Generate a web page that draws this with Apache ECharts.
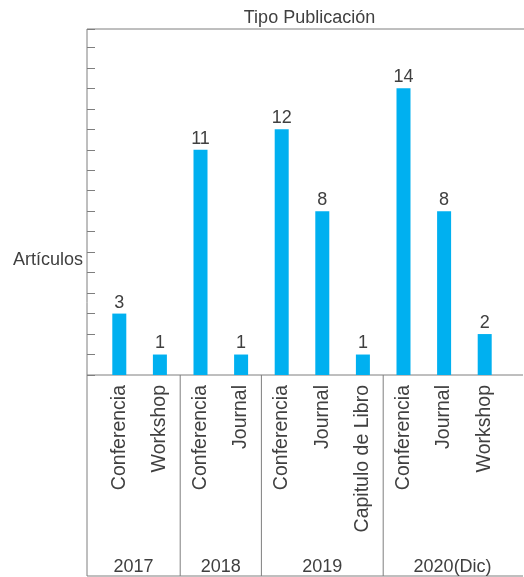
<!DOCTYPE html>
<html>
<head>
<meta charset="utf-8">
<script src="https://cdn.jsdelivr.net/npm/echarts@6/dist/echarts.min.js"></script>
<style>
html,body{margin:0;padding:0;background:#fff;}
#chart{width:524px;height:577px;}
</style>
</head>
<body>
<div id="chart"></div>
<script>
// ---- data ----
const years = ['2017', '2018', '2019', '2020(Dic)'];
const groupSizes = [2, 2, 3, 3];
const categories = ['Conferencia', 'Workshop', 'Conferencia', 'Journal', 'Conferencia', 'Journal', 'Capitulo de Libro', 'Conferencia', 'Journal', 'Workshop'];
const values = [3, 1, 11, 1, 12, 8, 1, 14, 8, 2];
const yMax = 16.9;

// unique keys for the category axis
const catKeys = categories.map((c, i) => i + '|' + c);

const FONT = '"Liberation Sans", Arial, sans-serif';
const TEXT = '#404040';
const LINE = '#7f7f7f';

// frame layout
const frameLeft = 87, frameRight = 522, frameTop = 29, baseY = 375, frameBottom = 576;

const chart = echarts.init(document.getElementById('chart'));
chart.setOption({
  animation: false,
  backgroundColor: '#fff',
  textStyle: { fontFamily: FONT },
  title: {
    text: 'Tipo Publicación',
    left: (frameLeft + frameRight) / 2,
    textAlign: 'center',
    top: 4,
    textStyle: { fontFamily: FONT, fontSize: 18, fontWeight: 'normal', color: TEXT }
  },
  grid: { left: 99, width: 406, top: frameTop, height: baseY - frameTop },
  xAxis: {
    type: 'category',
    data: catKeys,
    axisLine: { show: false },
    axisTick: { show: false },
    axisLabel: {
      interval: 0,
      rotate: 90,
      margin: 10,
      fontFamily: FONT,
      fontSize: 19.5,
      color: TEXT,
      formatter: v => v.split('|')[1]
    }
  },
  yAxis: {
    type: 'value',
    min: 0,
    max: yMax,
    interval: 1,
    offset: 12,
    axisLine: { show: false },
    axisTick: { show: true, inside: true, length: 8, lineStyle: { color: LINE, width: 1 } },
    axisLabel: { show: false },
    splitLine: { show: false }
  },
  series: [{
    type: 'bar',
    data: values,
    barWidth: 14,
    itemStyle: { color: '#00B0F0' },
    label: {
      show: true,
      position: 'top',
      distance: 2,
      fontFamily: FONT,
      fontSize: 18,
      color: TEXT
    }
  }]
});

// decorations: frame, group separators, group labels
const px = i => chart.convertToPixel({ xAxisIndex: 0 }, catKeys[i]);
const bounds = [frameLeft];
let idx = 0;
groupSizes.forEach((n, g) => {
  idx += n;
  if (g < groupSizes.length - 1) bounds.push((px(idx - 1) + px(idx)) / 2);
});
bounds.push(frameRight);

const lineStyle = { stroke: LINE, lineWidth: 1 };
const graphics = [
  { type: 'line', shape: { x1: frameLeft, y1: frameTop, x2: 524, y2: frameTop }, style: lineStyle },
  { type: 'line', shape: { x1: frameLeft, y1: frameTop, x2: frameLeft, y2: frameBottom }, style: lineStyle },
  { type: 'line', shape: { x1: frameLeft, y1: baseY, x2: frameRight + 1, y2: baseY }, style: lineStyle },
  { type: 'line', shape: { x1: frameLeft, y1: frameBottom, x2: frameRight + 1, y2: frameBottom }, style: lineStyle },
  {
    type: 'text', x: 83, y: 260,
    style: { text: 'Artículos', fontFamily: FONT, fontSize: 18, fill: TEXT, textAlign: 'right', textVerticalAlign: 'middle' }
  }
];
for (let b = 1; b < bounds.length - 1; b++) {
  graphics.push({ type: 'line', shape: { x1: bounds[b], y1: baseY, x2: bounds[b], y2: frameBottom }, style: lineStyle });
}
years.forEach((y, g) => {
  graphics.push({
    type: 'text', x: (bounds[g] + bounds[g + 1]) / 2, y: 567,
    style: { text: y, fontFamily: FONT, fontSize: 18, fill: TEXT, textAlign: 'center', textVerticalAlign: 'middle' }
  });
});
chart.setOption({ graphic: graphics });
</script>
</body>
</html>
